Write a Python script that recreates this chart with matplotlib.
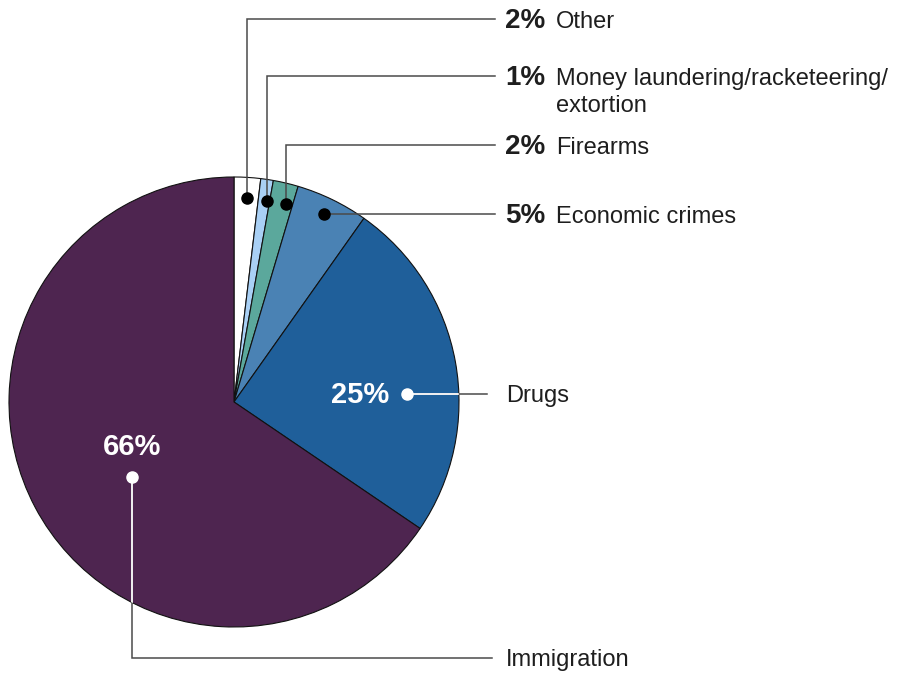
import matplotlib
matplotlib.use('Agg')
import matplotlib.pyplot as plt
import numpy as np

categories = ['Other', 'Money laundering/racketeering/\nextortion', 'Firearms',
              'Economic crimes', 'Drugs', 'Immigration']
shares = [1.9, 0.9, 1.8, 5.2, 24.7, 65.5]
pct_labels = ['2%', '1%', '2%', '5%', '25%', '66%']
colors = ['#ffffff', '#a9d0f5', '#5ba89c', '#4a82b4', '#1f5f9a', '#4e2550']

plt.rcParams['font.family'] = ['Liberation Sans', 'DejaVu Sans']

W, H = 907, 673
fig = plt.figure(figsize=(9.07, 6.73), dpi=100)
ax = fig.add_axes([0, 0, 1, 1])


def Y(py):
    return H - py


cx, cy, R = 234, Y(402), 225
wedges, _ = ax.pie(shares, colors=colors, startangle=90, counterclock=False,
                   radius=R, center=(cx, cy),
                   wedgeprops=dict(edgecolor='#111111', linewidth=0.8), frame=False)
ax.set_xlim(0, W)
ax.set_ylim(0, H)
ax.set_aspect('equal')
ax.axis('off')

line_col = '#4a4a4a'
txt_col = '#1e1e1e'
x_line_end = 495
x_pct = 505
x_name = 556
label_rows = [19, 76, 145, 214]   # pixel rows of the outside labels
dot_r = [204, 204, 205, 208]
dot_frac = [0.55, 0.74, 0.72, 0.48]   # position within slice, clockwise from its start
line_gap = 27

# small slices: dots inside the slice, leader up then right
for i in range(4):
    w = wedges[i]
    th = np.deg2rad(w.theta2 - dot_frac[i] * (w.theta2 - w.theta1))
    dx, dy = cx + dot_r[i] * np.cos(th), cy + dot_r[i] * np.sin(th)
    ly = Y(label_rows[i])
    if i < 3:
        ax.plot([dx, dx, x_line_end], [dy, ly, ly], color=line_col, lw=1.1, zorder=3,
                solid_joinstyle='miter')
    else:
        ax.plot([dx, x_line_end], [dy, dy], color=line_col, lw=1.1, zorder=3)
        ly = dy
    ax.plot([dx], [dy], 'o', color='black', ms=8, zorder=4)
    ax.text(x_pct, ly - 9, pct_labels[i], fontsize=20, fontweight='bold',
            color=txt_col, va='baseline', ha='left')
    for k, part in enumerate(categories[i].split('\n')):
        ax.text(x_name, ly - 9 - k * line_gap, part, fontsize=17, color=txt_col,
                va='baseline', ha='left')

# Drugs
d_dot = (407, Y(394))
ax.plot([d_dot[0], 487], [d_dot[1], d_dot[1]], color=line_col, lw=1.1, zorder=3)
wl = ax.plot([d_dot[0], 487], [d_dot[1], d_dot[1]], color='white', lw=1.3, zorder=4)[0]
wl.set_clip_path(wedges[4])
ax.plot([d_dot[0]], [d_dot[1]], 'o', color='white', ms=8, zorder=5)
ax.text(360, Y(395), pct_labels[4], fontsize=21, fontweight='bold', color='white',
        ha='center', va='center', zorder=5)
ax.text(506, Y(396), categories[4], fontsize=17, color=txt_col, ha='left', va='center')

# Immigration
i_dot = (132, Y(477))
xs = [i_dot[0], i_dot[0], 492]
ys = [i_dot[1], Y(658), Y(658)]
ax.plot(xs, ys, color=line_col, lw=1.1, zorder=3, solid_joinstyle='miter')
wl2 = ax.plot(xs, ys, color='white', lw=1.3, zorder=4)[0]
wl2.set_clip_path(wedges[5])
ax.plot([i_dot[0]], [i_dot[1]], 'o', color='white', ms=8, zorder=5)
ax.text(132, Y(447), pct_labels[5], fontsize=21, fontweight='bold', color='white',
        ha='center', va='center', zorder=5)
ax.text(506, Y(660), categories[5], fontsize=17, color=txt_col, ha='left', va='center')

fig.savefig('out.png', dpi=100, facecolor='white')
